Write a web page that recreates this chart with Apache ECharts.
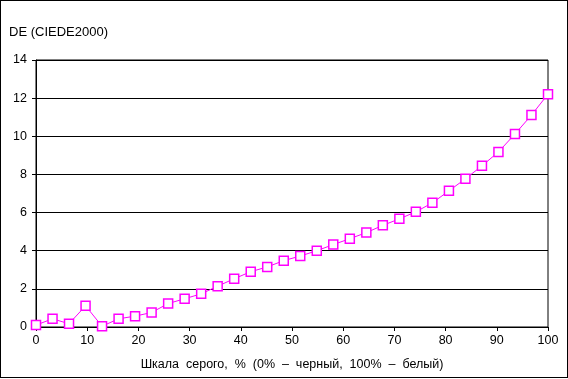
<!DOCTYPE html>
<html>
<head>
<meta charset="utf-8">
<script src="https://cdn.jsdelivr.net/npm/echarts@6/dist/echarts.min.js"></script>
<style>
html,body{margin:0;padding:0;background:#fff;}
#wrap{position:absolute;left:0;top:0;width:566px;height:376px;border:1px solid #000;}
#chart{width:568px;height:379px;position:absolute;left:0;top:0;}
</style>
</head>
<body>
<div id="wrap"></div>
<div id="chart"></div>
<script>
const xValues = [0, 3.23, 6.45, 9.68, 12.9, 16.13, 19.35, 22.58, 25.81, 29.03, 32.26, 35.48, 38.71, 41.94, 45.16, 48.39, 51.61, 54.84, 58.06, 61.29, 64.52, 67.74, 70.97, 74.19, 77.42, 80.65, 83.87, 87.1, 90.32, 93.55, 96.77, 100];
const deValues = [0.1, 0.43, 0.17, 1.11, 0.04, 0.43, 0.57, 0.76, 1.23, 1.48, 1.74, 2.14, 2.53, 2.9, 3.15, 3.48, 3.72, 4.0, 4.32, 4.63, 4.95, 5.33, 5.67, 6.04, 6.51, 7.14, 7.77, 8.45, 9.18, 10.12, 11.11, 12.21];
const yTitle = 'DE (CIEDE2000)';
const xTitle = 'Шкала  серого,  %  (0%  –  черный,  100%  –  белый)';

const chart = echarts.init(document.getElementById('chart'), null, {renderer: 'canvas'});
const font = 'Liberation Sans, Arial, sans-serif';
chart.setOption({
  animation: false,
  backgroundColor: 'transparent',
  title: {
    text: yTitle, left: 9, top: 26, padding: 0,
    textStyle: {fontFamily: font, fontSize: 13, fontWeight: 'normal', color: '#000'}
  },
  grid: {left: 36, right: 20, top: 60, bottom: 52, show: true, borderColor: '#000', borderWidth: 1, backgroundColor: 'transparent'},
  xAxis: {
    type: 'value', min: 0, max: 100, interval: 10,
    name: xTitle, nameLocation: 'middle', nameGap: 31,
    nameTextStyle: {fontFamily: font, fontSize: 12.5, color: '#000'},
    axisLine: {show: true, lineStyle: {color: '#000', width: 1}},
    axisTick: {show: true, length: 4, lineStyle: {color: '#000'}},
    axisLabel: {fontFamily: font, fontSize: 12.5, color: '#000', margin: 7},
    splitLine: {show: false}
  },
  yAxis: {
    type: 'value', min: 0, max: 14, interval: 2,
    axisLine: {show: true, lineStyle: {color: '#000', width: 1}},
    axisTick: {show: true, length: 4, lineStyle: {color: '#000'}},
    axisLabel: {fontFamily: font, fontSize: 12.5, color: '#000', margin: 9},
    splitLine: {show: true, lineStyle: {color: '#000', width: 1}}
  },
  series: [{
    type: 'line',
    data: xValues.map((x, i) => [x, deValues[i]]),
    symbol: 'rect', symbolSize: 9,
    showAllSymbol: true,
    lineStyle: {color: '#ff00ff', width: 1},
    itemStyle: {color: '#ffffff', borderColor: '#ff00ff', borderWidth: 1.5},
    emphasis: {disabled: true}
  }]
});
</script>
</body>
</html>
